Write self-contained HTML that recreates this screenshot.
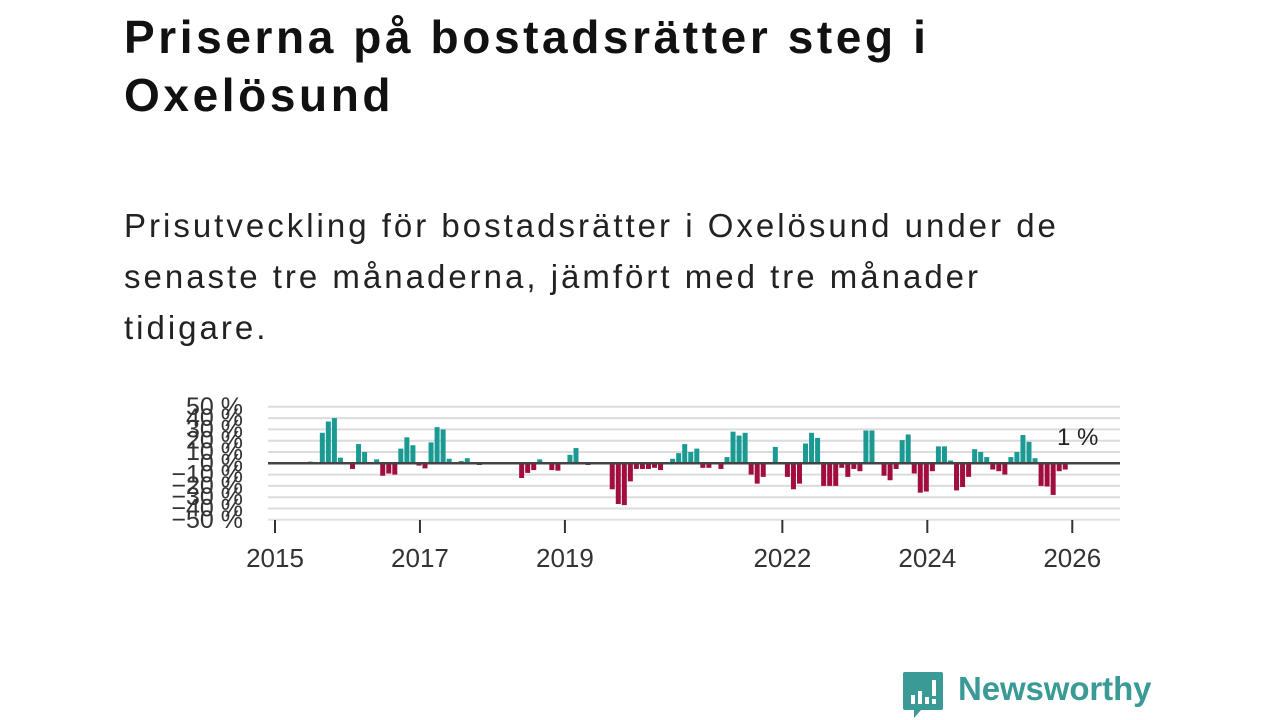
<!DOCTYPE html>
<html><head><meta charset="utf-8">
<style>
body{margin:0;width:1280px;height:720px;background:#fff;overflow:hidden;font-family:"Liberation Sans",sans-serif;position:relative}
h1{position:absolute;left:124px;top:8px;margin:0;font-size:46px;line-height:58px;font-weight:bold;color:#111;width:1000px;letter-spacing:3.6px}
p.sub{position:absolute;left:124px;top:200px;margin:0;font-size:33px;line-height:51px;color:#222;width:960px;letter-spacing:3px}
svg{position:absolute;left:0;top:0}
.logo{position:absolute;left:958px;top:670px;font-size:33px;font-weight:bold;color:#3a9a96;letter-spacing:-0.1px}
</style></head><body>
<h1>Priserna på bostadsrätter steg i<br>Oxelösund</h1>
<p class="sub">Prisutveckling för bostadsrätter i Oxelösund under de senaste tre månaderna, jämfört med tre månader tidigare.</p>
<svg id="chart" width="1280" height="720"></svg>
<svg width="1280" height="720">
<path d="M905 672 h36 a2 2 0 0 1 2 2 v34 a2 2 0 0 1 -2 2 h-20 l-7 8 v-8 h-9 a2 2 0 0 1 -2 -2 v-34 a2 2 0 0 1 2 -2z" fill="#3a9a96"/>
<rect x="911" y="695" width="4" height="9" fill="#fff"/><rect x="918" y="691" width="4" height="13" fill="#fff"/><rect x="925" y="697" width="4" height="7" fill="#fff"/><rect x="932" y="680" width="4" height="16" fill="#fff"/><rect x="932" y="699" width="4" height="5" fill="#fff"/>
</svg>
<div class="logo">Newsworthy</div>
<script>
const months=[6,8,9,10,11,13,14,15,17,18,19,20,21,22,23,24,25,26,27,28,29,31,32,34,41,42,43,44,46,47,49,50,52,56,57,58,59,60,61,62,63,64,66,67,68,69,70,71,72,74,75,76,77,78,79,80,81,83,85,86,87,88,89,90,91,92,93,94,95,96,97,98,99,101,102,103,104,105,106,107,108,109,110,111,112,113,114,115,116,117,118,119,120,121,122,123,124,125,126,127,128,129,130,131];
const values=[1.5,27,37,40,5,-5,17,10,3.5,-11,-9,-10,13,23,16,-2,-4.5,18.5,32,30,4,2,4.5,-1.5,-13,-8.5,-6,3.5,-6,-6.5,7.5,13.5,-1.5,-23,-36,-37,-16,-5,-5,-5,-4,-6,4,9,17,10,13,-4,-4,-5,5.5,28,24.5,27,-10,-18,-12,14.5,-12,-23,-18,17.5,27,22.5,-20,-20,-20,-4,-12,-5,-7,29,29,-11,-15,-5,20.5,25.5,-9,-26,-25,-7,15,15,2.5,-24,-21,-12,12.5,10,5.5,-5.5,-7,-10,5.5,10,25,19,4.5,-20,-20.5,-28,-7,-5.5];
const yTicks=[50,40,30,20,10,0,-10,-20,-30,-40,-50];
const xTickYears=[2015,2017,2019,2022,2024,2026];
const NS="http://www.w3.org/2000/svg";
const svg=document.getElementById('chart');
const x0=275,perMonth=6.04,zeroY=463.3,perPct=1.13;
const xs=m=>x0+m*perMonth;
const ys=v=>zeroY-v*perPct;
function mk(tag,attrs){const e=document.createElementNS(NS,tag);for(const k in attrs)e.setAttribute(k,attrs[k]);svg.appendChild(e);return e;}
yTicks.forEach(t=>{
  if(t!==0){const g=mk('line',{x1:268,x2:1120,y1:ys(t),y2:ys(t),stroke:'#dcdcdc','stroke-width':2});
  
  }
  const l=mk('text',{x:243,y:ys(t)+8,'text-anchor':'end','font-size':25,fill:'#333','font-family':'Liberation Sans, sans-serif'});
  l.textContent=(t<0?'\u2212'+(-t):t)+' %';
  
  
});
const base=mk('line',{x1:268,x2:1120,y1:520,y2:520,stroke:'#e6e6e6','stroke-width':1});


months.forEach((m,i)=>{
  const v=values[i];
  const r=mk('rect',{x:xs(m)-3.5,y:Math.min(ys(v),zeroY),width:5,height:Math.abs(ys(v)-zeroY),fill:v>=0?'#1a9a93':'#a10d3f'});
  
  
});
const z=mk('line',{x1:268,x2:1120,y1:zeroY,y2:zeroY,stroke:'#444','stroke-width':2.5});


xTickYears.forEach(y=>{
  const x=xs((y-2015)*12);
  const t=mk('line',{x1:x,x2:x,y1:520,y2:533,stroke:'#333','stroke-width':2});
  
  
  const l=mk('text',{x:x,y:567,'text-anchor':'middle','font-size':26,fill:'#333','font-family':'Liberation Sans, sans-serif'});
  l.textContent=y;
  
  
});
const lab=mk('text',{x:1057,y:445,'font-size':24,fill:'#222','font-family':'Liberation Sans, sans-serif'});
lab.textContent='1 %';


</script>
</body></html>
